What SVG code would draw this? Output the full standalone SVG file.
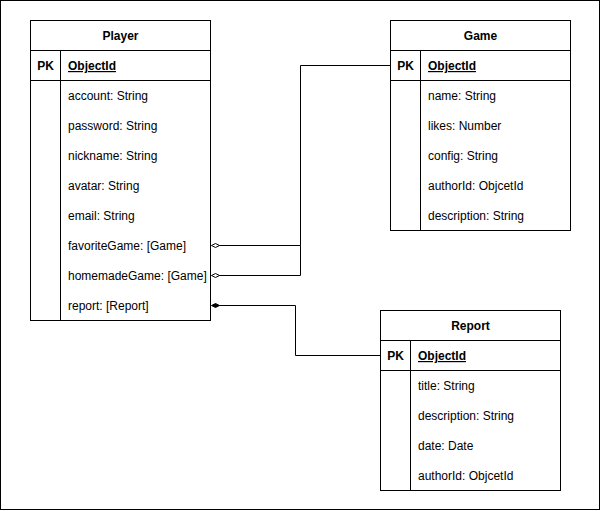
<svg xmlns="http://www.w3.org/2000/svg" width="601" height="511" viewBox="0 0 601 511">
  <defs>
    <style>
      .box { fill: #ffffff; stroke: #000000; stroke-width: 1; }
      .rule { stroke: #000000; stroke-width: 1; fill: none; }
      .title { font-family: "Liberation Sans", Arial, sans-serif; font-size: 12px; font-weight: bold; fill: #000000; text-anchor: middle; }
      .pk { font-family: "Liberation Sans", Arial, sans-serif; font-size: 12px; font-weight: bold; fill: #000000; text-anchor: middle; }
      .key { font-family: "Liberation Sans", Arial, sans-serif; font-size: 12px; font-weight: bold; fill: #000000; text-decoration: underline; }
      .attr { font-family: "Liberation Sans", Arial, sans-serif; font-size: 12px; fill: #000000; }
      .link { stroke: #000000; stroke-width: 1; fill: none; }
      .open { fill: #ffffff; stroke: #000000; stroke-width: 1; }
      .solid { fill: #000000; stroke: #000000; stroke-width: 1; }
    </style>
    <!-- thin diamond end, tip at the origin, pointing left -->
    <path id="diamond" d="M0,0 L4,-2 L8,0 L4,2 Z"/>
  </defs>

  <!-- page frame -->
  <rect x="0.5" y="0.5" width="599" height="509" fill="#ffffff" stroke="#000000" stroke-width="1"/>

  <!-- Player collection -->
  <g id="player">
    <rect class="box" x="30.5" y="20.5" width="180" height="300"/>
    <line class="rule" x1="30.5" y1="50.5" x2="210.5" y2="50.5"/>
    <line class="rule" x1="30.5" y1="80.5" x2="210.5" y2="80.5"/>
    <line class="rule" x1="60.5" y1="50.5" x2="60.5" y2="320.5"/>
    <text class="title" x="120.5" y="40">Player</text>
    <text class="pk" x="45.5" y="70">PK</text>
    <text class="key" x="68" y="70">ObjectId</text>
    <text class="attr" x="68" y="100">account: String</text>
    <text class="attr" x="68" y="130">password: String</text>
    <text class="attr" x="68" y="160">nickname: String</text>
    <text class="attr" x="68" y="190">avatar: String</text>
    <text class="attr" x="68" y="220">email: String</text>
    <text class="attr" x="68" y="250">favoriteGame: [Game]</text>
    <text class="attr" x="68" y="280">homemadeGame: [Game]</text>
    <text class="attr" x="68" y="310">report: [Report]</text>
  </g>

  <!-- Game collection -->
  <g id="game">
    <rect class="box" x="390.5" y="20.5" width="180" height="210"/>
    <line class="rule" x1="390.5" y1="50.5" x2="570.5" y2="50.5"/>
    <line class="rule" x1="390.5" y1="80.5" x2="570.5" y2="80.5"/>
    <line class="rule" x1="420.5" y1="50.5" x2="420.5" y2="230.5"/>
    <text class="title" x="480.5" y="40">Game</text>
    <text class="pk" x="405.5" y="70">PK</text>
    <text class="key" x="428" y="70">ObjectId</text>
    <text class="attr" x="428" y="100">name: String</text>
    <text class="attr" x="428" y="130">likes: Number</text>
    <text class="attr" x="428" y="160">config: String</text>
    <text class="attr" x="428" y="190">authorId: ObjcetId</text>
    <text class="attr" x="428" y="220">description: String</text>
  </g>

  <!-- Report collection -->
  <g id="report">
    <rect class="box" x="380.5" y="310.5" width="180" height="180"/>
    <line class="rule" x1="380.5" y1="340.5" x2="560.5" y2="340.5"/>
    <line class="rule" x1="380.5" y1="370.5" x2="560.5" y2="370.5"/>
    <line class="rule" x1="410.5" y1="340.5" x2="410.5" y2="490.5"/>
    <text class="title" x="470.5" y="330">Report</text>
    <text class="pk" x="395.5" y="360">PK</text>
    <text class="key" x="418" y="360">ObjectId</text>
    <text class="attr" x="418" y="390">title: String</text>
    <text class="attr" x="418" y="420">description: String</text>
    <text class="attr" x="418" y="450">date: Date</text>
    <text class="attr" x="418" y="480">authorId: ObjcetId</text>
  </g>

  <!-- relations -->
  <g id="connectors">
    <path class="link" d="M390.5,65.5 H300.5 V245.5 H219"/>
    <path class="link" d="M300.5,245.5 V275.5 H219"/>
    <path class="link" d="M380.5,355.5 H295.5 V305.5 H219"/>
    <use href="#diamond" class="open" x="211.5" y="245.5"/>
    <use href="#diamond" class="open" x="211.5" y="275.5"/>
    <use href="#diamond" class="solid" x="211.5" y="305.5"/>
  </g>
</svg>
